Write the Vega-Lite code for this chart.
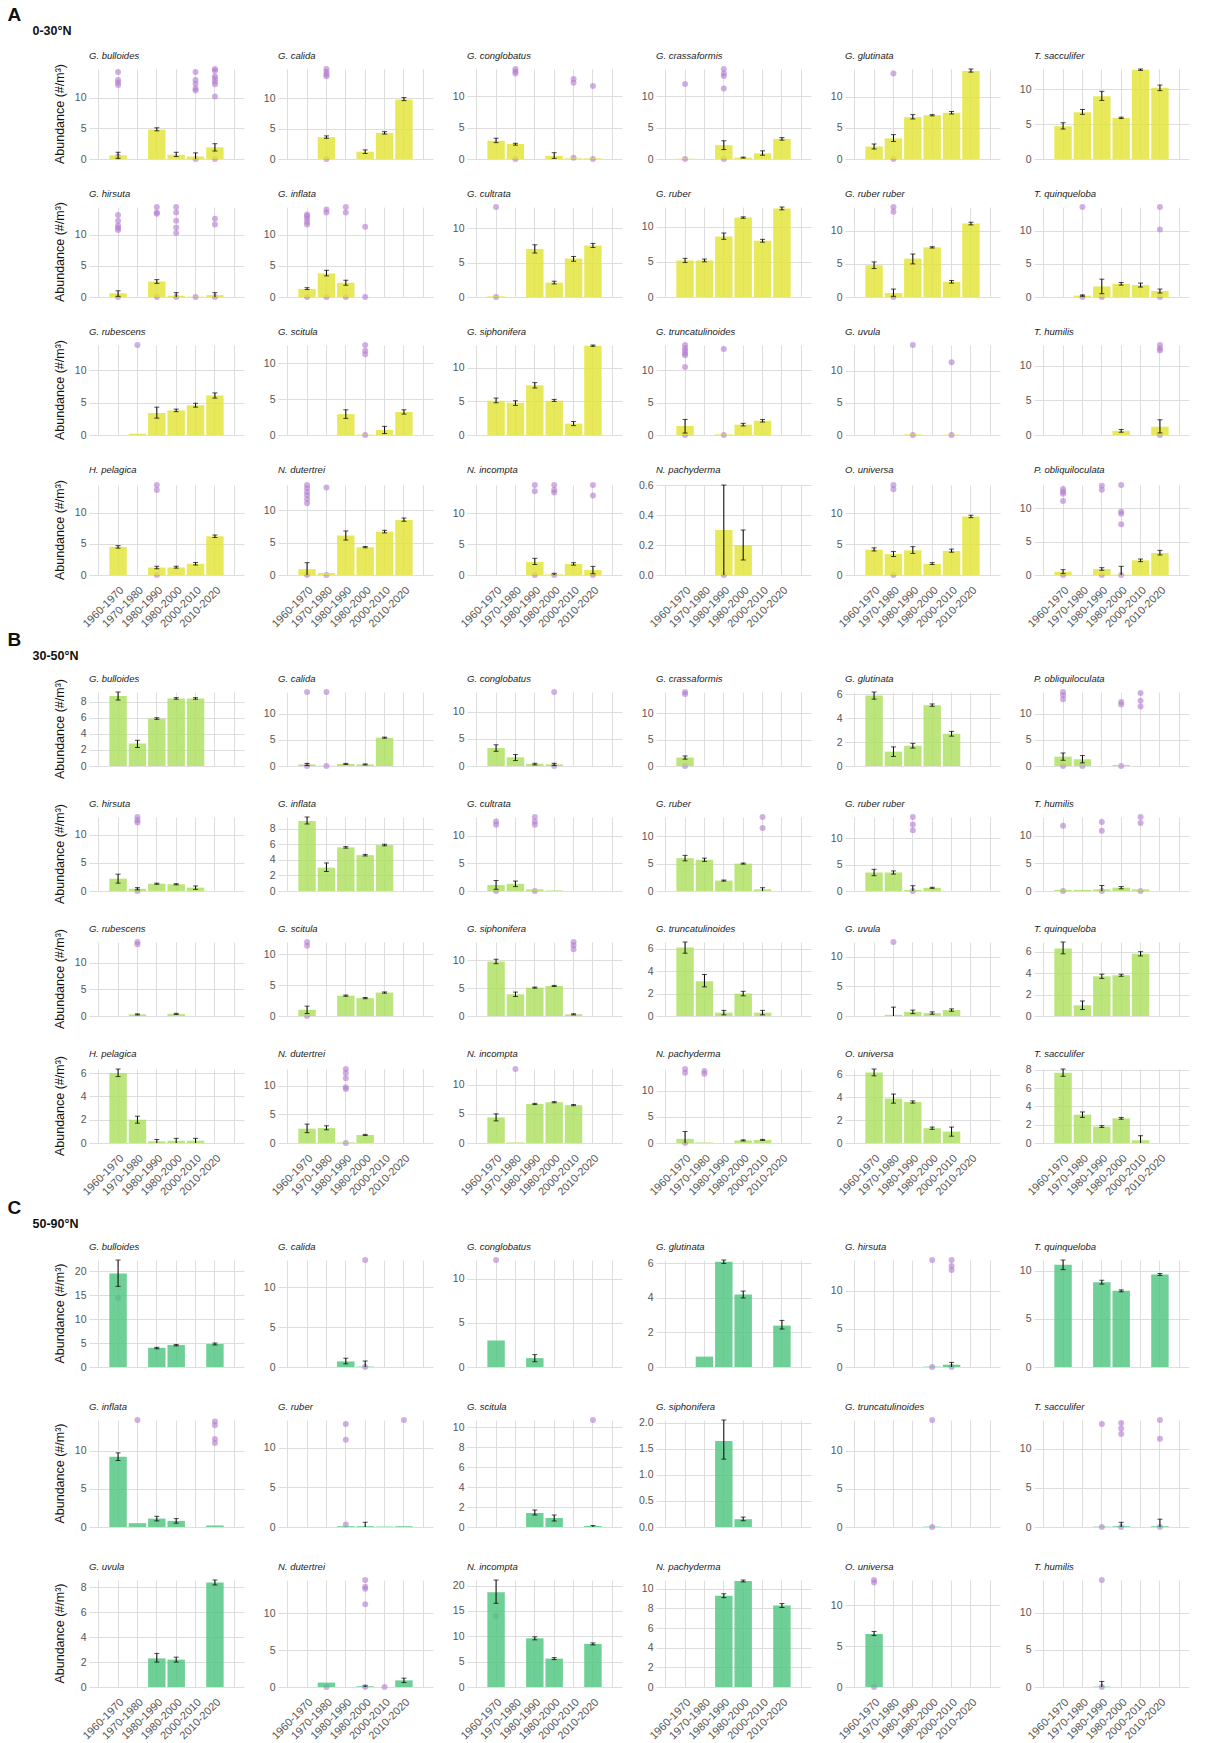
{
"$schema":"https://vega.github.io/schema/vega-lite/v6.json",
"padding":{"left":7,"top":6,"right":5,"bottom":0},
"background":"white",
"datasets":{"d":[
{"g":"A","s":"G. bulloides","d":1960,"m":0.6,"lo":0.1,"hi":1.1,"p":[14.2,12.9,12.5,12.1,0.4]},
{"g":"A","s":"G. bulloides","d":1980,"m":4.8,"lo":4.6,"hi":5.1,"p":[]},
{"g":"A","s":"G. bulloides","d":1990,"m":0.7,"lo":0.4,"hi":1.1,"p":[]},
{"g":"A","s":"G. bulloides","d":2000,"m":0.4,"lo":0,"hi":1.0,"p":[14.2,12.9,12.3,11.5,11.2,0]},
{"g":"A","s":"G. bulloides","d":2010,"m":1.9,"lo":1.3,"hi":2.5,"p":[14.7,14.4,13.5,13.1,12.6,12.2,10.2,0]},
{"g":"A","s":"G. calida","d":1970,"m":3.6,"lo":3.4,"hi":3.8,"p":[14.8,14.3,13.9,13.6,0]},
{"g":"A","s":"G. calida","d":1990,"m":1.2,"lo":0.9,"hi":1.5,"p":[]},
{"g":"A","s":"G. calida","d":2000,"m":4.3,"lo":4.1,"hi":4.5,"p":[]},
{"g":"A","s":"G. calida","d":2010,"m":9.8,"lo":9.6,"hi":10.1,"p":[]},
{"g":"A","s":"G. conglobatus","d":1960,"m":2.9,"lo":2.6,"hi":3.3,"p":[]},
{"g":"A","s":"G. conglobatus","d":1970,"m":2.4,"lo":2.2,"hi":2.5,"p":[14.3,13.9,13.6,0]},
{"g":"A","s":"G. conglobatus","d":1990,"m":0.5,"lo":0.1,"hi":1.0,"p":[]},
{"g":"A","s":"G. conglobatus","d":2000,"m":0.1,"p":[12.7,12.1,0.2]},
{"g":"A","s":"G. conglobatus","d":2010,"m":0.1,"p":[11.6,0]},
{"g":"A","s":"G. crassaformis","d":1960,"m":0.05,"p":[11.9,0]},
{"g":"A","s":"G. crassaformis","d":1980,"m":2.2,"lo":1.5,"hi":2.9,"p":[14.3,13.6,13.2,11.2,0]},
{"g":"A","s":"G. crassaformis","d":1990,"m":0.2,"lo":0.15,"hi":0.3,"p":[]},
{"g":"A","s":"G. crassaformis","d":2000,"m":0.9,"lo":0.6,"hi":1.3,"p":[]},
{"g":"A","s":"G. crassaformis","d":2010,"m":3.2,"lo":3.0,"hi":3.4,"p":[]},
{"g":"A","s":"G. glutinata","d":1960,"m":2.0,"lo":1.6,"hi":2.4,"p":[]},
{"g":"A","s":"G. glutinata","d":1970,"m":3.3,"lo":2.8,"hi":3.9,"p":[13.7,0]},
{"g":"A","s":"G. glutinata","d":1980,"m":6.7,"lo":6.4,"hi":7.1,"p":[]},
{"g":"A","s":"G. glutinata","d":1990,"m":7.0,"lo":6.9,"hi":7.1,"p":[]},
{"g":"A","s":"G. glutinata","d":2000,"m":7.4,"lo":7.2,"hi":7.6,"p":[]},
{"g":"A","s":"G. glutinata","d":2010,"m":14.1,"lo":13.9,"hi":14.4,"p":[]},
{"g":"A","s":"T. sacculifer","d":1960,"m":4.7,"lo":4.3,"hi":5.2,"p":[]},
{"g":"A","s":"T. sacculifer","d":1970,"m":6.7,"lo":6.4,"hi":7.1,"p":[]},
{"g":"A","s":"T. sacculifer","d":1980,"m":9.0,"lo":8.4,"hi":9.7,"p":[]},
{"g":"A","s":"T. sacculifer","d":1990,"m":5.9,"lo":5.8,"hi":6.0,"p":[]},
{"g":"A","s":"T. sacculifer","d":2000,"m":12.8,"lo":12.7,"hi":12.9,"p":[]},
{"g":"A","s":"T. sacculifer","d":2010,"m":10.2,"lo":9.8,"hi":10.6,"p":[]},
{"g":"A","s":"G. hirsuta","d":1960,"m":0.6,"lo":0.1,"hi":1.0,"p":[13.2,12.3,11.5,11.1,10.8,0]},
{"g":"A","s":"G. hirsuta","d":1980,"m":2.5,"lo":2.2,"hi":2.8,"p":[14.5,13.6,13.4,0]},
{"g":"A","s":"G. hirsuta","d":1990,"m":0.2,"lo":0,"hi":0.7,"p":[14.5,13.6,12.3,11.2,10.3,0]},
{"g":"A","s":"G. hirsuta","d":2000,"m":0.05,"p":[0]},
{"g":"A","s":"G. hirsuta","d":2010,"m":0.3,"lo":0,"hi":0.7,"p":[12.6,11.7,0]},
{"g":"A","s":"G. inflata","d":1960,"m":1.3,"lo":1.2,"hi":1.5,"p":[13.3,13.0,12.6,12.1,11.7,0]},
{"g":"A","s":"G. inflata","d":1970,"m":3.8,"lo":3.4,"hi":4.3,"p":[14.1,13.6,0]},
{"g":"A","s":"G. inflata","d":1980,"m":2.3,"lo":1.9,"hi":2.7,"p":[14.5,13.6,0]},
{"g":"A","s":"G. inflata","d":1990,"p":[11.3,0]},
{"g":"A","s":"G. cultrata","d":1960,"m":0.1,"p":[13.1,0]},
{"g":"A","s":"G. cultrata","d":1980,"m":7.0,"lo":6.4,"hi":7.6,"p":[]},
{"g":"A","s":"G. cultrata","d":1990,"m":2.1,"lo":1.9,"hi":2.3,"p":[]},
{"g":"A","s":"G. cultrata","d":2000,"m":5.6,"lo":5.2,"hi":5.9,"p":[]},
{"g":"A","s":"G. cultrata","d":2010,"m":7.5,"lo":7.2,"hi":7.8,"p":[]},
{"g":"A","s":"G. ruber","d":1960,"m":5.2,"lo":4.9,"hi":5.5,"p":[]},
{"g":"A","s":"G. ruber","d":1970,"m":5.2,"lo":5.0,"hi":5.4,"p":[]},
{"g":"A","s":"G. ruber","d":1980,"m":8.6,"lo":8.2,"hi":9.1,"p":[]},
{"g":"A","s":"G. ruber","d":1990,"m":11.3,"lo":11.2,"hi":11.4,"p":[]},
{"g":"A","s":"G. ruber","d":2000,"m":8.0,"lo":7.8,"hi":8.2,"p":[]},
{"g":"A","s":"G. ruber","d":2010,"m":12.6,"lo":12.4,"hi":12.8,"p":[]},
{"g":"A","s":"G. ruber ruber","d":1960,"m":4.8,"lo":4.3,"hi":5.3,"p":[]},
{"g":"A","s":"G. ruber ruber","d":1970,"m":0.6,"lo":0.1,"hi":1.2,"p":[13.6,12.9,0]},
{"g":"A","s":"G. ruber ruber","d":1980,"m":5.8,"lo":5.0,"hi":6.5,"p":[]},
{"g":"A","s":"G. ruber ruber","d":1990,"m":7.5,"lo":7.4,"hi":7.6,"p":[]},
{"g":"A","s":"G. ruber ruber","d":2000,"m":2.3,"lo":2.1,"hi":2.5,"p":[]},
{"g":"A","s":"G. ruber ruber","d":2010,"m":11.1,"lo":10.9,"hi":11.3,"p":[]},
{"g":"A","s":"T. quinqueloba","d":1970,"m":0.2,"lo":0.1,"hi":0.3,"p":[13.6,0]},
{"g":"A","s":"T. quinqueloba","d":1980,"m":1.6,"lo":0.5,"hi":2.7,"p":[0]},
{"g":"A","s":"T. quinqueloba","d":1990,"m":2.0,"lo":1.8,"hi":2.2,"p":[]},
{"g":"A","s":"T. quinqueloba","d":2000,"m":1.8,"lo":1.5,"hi":2.1,"p":[]},
{"g":"A","s":"T. quinqueloba","d":2010,"m":0.9,"lo":0.6,"hi":1.2,"p":[13.6,10.2,0]},
{"g":"A","s":"G. rubescens","d":1970,"m":0.2,"p":[13.9]},
{"g":"A","s":"G. rubescens","d":1980,"m":3.4,"lo":2.6,"hi":4.3,"p":[]},
{"g":"A","s":"G. rubescens","d":1990,"m":3.8,"lo":3.6,"hi":4.0,"p":[]},
{"g":"A","s":"G. rubescens","d":2000,"m":4.6,"lo":4.3,"hi":4.9,"p":[]},
{"g":"A","s":"G. rubescens","d":2010,"m":6.1,"lo":5.7,"hi":6.5,"p":[]},
{"g":"A","s":"G. scitula","d":1980,"m":2.9,"lo":2.3,"hi":3.5,"p":[]},
{"g":"A","s":"G. scitula","d":1990,"m":0.05,"p":[12.5,11.7,11.2,0]},
{"g":"A","s":"G. scitula","d":2000,"m":0.7,"lo":0.2,"hi":1.2,"p":[]},
{"g":"A","s":"G. scitula","d":2010,"m":3.2,"lo":2.9,"hi":3.5,"p":[]},
{"g":"A","s":"G. siphonifera","d":1960,"m":5.1,"lo":4.8,"hi":5.5,"p":[]},
{"g":"A","s":"G. siphonifera","d":1970,"m":4.8,"lo":4.4,"hi":5.1,"p":[]},
{"g":"A","s":"G. siphonifera","d":1980,"m":7.4,"lo":7.0,"hi":7.8,"p":[]},
{"g":"A","s":"G. siphonifera","d":1990,"m":5.1,"lo":5.0,"hi":5.3,"p":[]},
{"g":"A","s":"G. siphonifera","d":2000,"m":1.7,"lo":1.4,"hi":2.0,"p":[]},
{"g":"A","s":"G. siphonifera","d":2010,"m":13.3,"lo":13.2,"hi":13.4,"p":[]},
{"g":"A","s":"G. truncatulinoides","d":1960,"m":1.4,"lo":0.3,"hi":2.4,"p":[13.9,13.4,13.0,12.6,12.3,10.5,0]},
{"g":"A","s":"G. truncatulinoides","d":1980,"m":0.1,"p":[13.3,0]},
{"g":"A","s":"G. truncatulinoides","d":1990,"m":1.6,"lo":1.4,"hi":1.8,"p":[]},
{"g":"A","s":"G. truncatulinoides","d":2000,"m":2.2,"lo":2.0,"hi":2.4,"p":[]},
{"g":"A","s":"G. uvula","d":1980,"m":0.1,"p":[14.0,0]},
{"g":"A","s":"G. uvula","d":2000,"m":0.05,"p":[11.3,0]},
{"g":"A","s":"T. humilis","d":1990,"m":0.6,"lo":0.4,"hi":0.8,"p":[]},
{"g":"A","s":"T. humilis","d":2010,"m":1.2,"lo":0.3,"hi":2.2,"p":[13.0,12.5,12.2,0]},
{"g":"A","s":"H. pelagica","d":1960,"m":4.5,"lo":4.3,"hi":4.7,"p":[]},
{"g":"A","s":"H. pelagica","d":1980,"m":1.2,"lo":1.0,"hi":1.4,"p":[14.4,13.6,0]},
{"g":"A","s":"H. pelagica","d":1990,"m":1.2,"lo":1.1,"hi":1.4,"p":[]},
{"g":"A","s":"H. pelagica","d":2000,"m":1.8,"lo":1.6,"hi":2.0,"p":[]},
{"g":"A","s":"H. pelagica","d":2010,"m":6.2,"lo":6.0,"hi":6.4,"p":[]},
{"g":"A","s":"N. dutertrei","d":1960,"m":0.9,"lo":0,"hi":1.9,"p":[13.9,13.4,12.8,12.3,11.7,11.1,0]},
{"g":"A","s":"N. dutertrei","d":1970,"m":0.3,"p":[13.5,0]},
{"g":"A","s":"N. dutertrei","d":1980,"m":6.1,"lo":5.4,"hi":6.8,"p":[]},
{"g":"A","s":"N. dutertrei","d":1990,"m":4.3,"lo":4.2,"hi":4.4,"p":[]},
{"g":"A","s":"N. dutertrei","d":2000,"m":6.7,"lo":6.5,"hi":6.9,"p":[]},
{"g":"A","s":"N. dutertrei","d":2010,"m":8.5,"lo":8.3,"hi":8.8,"p":[]},
{"g":"A","s":"N. incompta","d":1980,"m":2.1,"lo":1.7,"hi":2.7,"p":[14.6,13.6,0]},
{"g":"A","s":"N. incompta","d":1990,"m":0.1,"lo":0,"hi":0.2,"p":[14.6,13.8,13.4,0]},
{"g":"A","s":"N. incompta","d":2000,"m":1.8,"lo":1.6,"hi":2.0,"p":[]},
{"g":"A","s":"N. incompta","d":2010,"m":0.8,"lo":0.2,"hi":1.4,"p":[14.6,12.9,0]},
{"g":"A","s":"N. pachyderma","d":1980,"m":0.3,"lo":0,"hi":0.6,"p":[0]},
{"g":"A","s":"N. pachyderma","d":1990,"m":0.2,"lo":0.1,"hi":0.3,"p":[]},
{"g":"A","s":"O. universa","d":1960,"m":4.1,"lo":3.9,"hi":4.4,"p":[]},
{"g":"A","s":"O. universa","d":1970,"m":3.4,"lo":3.0,"hi":3.8,"p":[14.6,13.9,0]},
{"g":"A","s":"O. universa","d":1980,"m":4.0,"lo":3.5,"hi":4.6,"p":[]},
{"g":"A","s":"O. universa","d":1990,"m":1.8,"lo":1.7,"hi":2.0,"p":[]},
{"g":"A","s":"O. universa","d":2000,"m":3.9,"lo":3.7,"hi":4.2,"p":[]},
{"g":"A","s":"O. universa","d":2010,"m":9.5,"lo":9.3,"hi":9.7,"p":[]},
{"g":"A","s":"P. obliquiloculata","d":1960,"m":0.5,"lo":0.2,"hi":0.8,"p":[12.9,12.5,12.2,11.1,0]},
{"g":"A","s":"P. obliquiloculata","d":1980,"m":0.9,"lo":0.7,"hi":1.1,"p":[13.4,12.8,0]},
{"g":"A","s":"P. obliquiloculata","d":1990,"m":0.05,"lo":0,"hi":1.3,"p":[13.5,9.5,9.2,7.6,0]},
{"g":"A","s":"P. obliquiloculata","d":2000,"m":2.2,"lo":2.0,"hi":2.4,"p":[]},
{"g":"A","s":"P. obliquiloculata","d":2010,"m":3.3,"lo":3.0,"hi":3.7,"p":[]},
{"g":"B","s":"G. bulloides","d":1960,"m":8.7,"lo":8.2,"hi":9.2,"p":[]},
{"g":"B","s":"G. bulloides","d":1970,"m":2.8,"lo":2.3,"hi":3.2,"p":[]},
{"g":"B","s":"G. bulloides","d":1980,"m":5.9,"lo":5.8,"hi":6.0,"p":[]},
{"g":"B","s":"G. bulloides","d":1990,"m":8.4,"lo":8.3,"hi":8.5,"p":[]},
{"g":"B","s":"G. bulloides","d":2000,"m":8.4,"lo":8.3,"hi":8.5,"p":[]},
{"g":"B","s":"G. calida","d":1960,"m":0.3,"lo":0.1,"hi":0.5,"p":[14.1,0]},
{"g":"B","s":"G. calida","d":1970,"m":0.05,"p":[14.1,0]},
{"g":"B","s":"G. calida","d":1980,"m":0.4,"lo":0.3,"hi":0.5,"p":[]},
{"g":"B","s":"G. calida","d":1990,"m":0.3,"lo":0.2,"hi":0.4,"p":[]},
{"g":"B","s":"G. calida","d":2000,"m":5.4,"lo":5.3,"hi":5.5,"p":[]},
{"g":"B","s":"G. conglobatus","d":1960,"m":3.3,"lo":2.7,"hi":3.9,"p":[]},
{"g":"B","s":"G. conglobatus","d":1970,"m":1.6,"lo":1.0,"hi":2.1,"p":[]},
{"g":"B","s":"G. conglobatus","d":1980,"m":0.4,"lo":0.2,"hi":0.5,"p":[]},
{"g":"B","s":"G. conglobatus","d":1990,"m":0.3,"lo":0.1,"hi":0.5,"p":[13.6,0]},
{"g":"B","s":"G. crassaformis","d":1960,"m":1.6,"lo":1.3,"hi":1.9,"p":[14.0,13.6,0]},
{"g":"B","s":"G. glutinata","d":1960,"m":5.9,"lo":5.6,"hi":6.2,"p":[]},
{"g":"B","s":"G. glutinata","d":1970,"m":1.2,"lo":0.8,"hi":1.6,"p":[]},
{"g":"B","s":"G. glutinata","d":1980,"m":1.7,"lo":1.5,"hi":1.9,"p":[]},
{"g":"B","s":"G. glutinata","d":1990,"m":5.1,"lo":5.0,"hi":5.2,"p":[]},
{"g":"B","s":"G. glutinata","d":2000,"m":2.7,"lo":2.5,"hi":2.9,"p":[]},
{"g":"B","s":"P. obliquiloculata","d":1960,"m":1.8,"lo":1.1,"hi":2.5,"p":[14.2,13.6,12.8,0]},
{"g":"B","s":"P. obliquiloculata","d":1970,"m":1.3,"lo":0.6,"hi":2.0,"p":[0]},
{"g":"B","s":"P. obliquiloculata","d":1990,"m":0.2,"p":[12.3,11.8,0]},
{"g":"B","s":"P. obliquiloculata","d":2000,"p":[14.0,12.5,11.4]},
{"g":"B","s":"G. hirsuta","d":1960,"m":2.2,"lo":1.4,"hi":3.0,"p":[]},
{"g":"B","s":"G. hirsuta","d":1970,"m":0.4,"lo":0.2,"hi":0.6,"p":[13.2,12.6,12.2,0]},
{"g":"B","s":"G. hirsuta","d":1980,"m":1.3,"lo":1.2,"hi":1.4,"p":[]},
{"g":"B","s":"G. hirsuta","d":1990,"m":1.2,"lo":1.1,"hi":1.3,"p":[]},
{"g":"B","s":"G. hirsuta","d":2000,"m":0.6,"lo":0.3,"hi":0.9,"p":[]},
{"g":"B","s":"G. inflata","d":1960,"m":9.0,"lo":8.6,"hi":9.5,"p":[]},
{"g":"B","s":"G. inflata","d":1970,"m":3.0,"lo":2.5,"hi":3.6,"p":[]},
{"g":"B","s":"G. inflata","d":1980,"m":5.6,"lo":5.5,"hi":5.7,"p":[]},
{"g":"B","s":"G. inflata","d":1990,"m":4.6,"lo":4.5,"hi":4.7,"p":[]},
{"g":"B","s":"G. inflata","d":2000,"m":5.9,"lo":5.8,"hi":6.0,"p":[]},
{"g":"B","s":"G. cultrata","d":1960,"m":1.1,"lo":0.3,"hi":1.9,"p":[12.6,12.0,0]},
{"g":"B","s":"G. cultrata","d":1970,"m":1.3,"lo":0.8,"hi":1.8,"p":[]},
{"g":"B","s":"G. cultrata","d":1980,"m":0.3,"p":[13.4,12.6,12.0,0]},
{"g":"B","s":"G. cultrata","d":1990,"m":0.1,"p":[]},
{"g":"B","s":"G. ruber","d":1960,"m":6.0,"lo":5.5,"hi":6.5,"p":[]},
{"g":"B","s":"G. ruber","d":1970,"m":5.7,"lo":5.4,"hi":6.0,"p":[]},
{"g":"B","s":"G. ruber","d":1980,"m":1.9,"lo":1.8,"hi":2.0,"p":[]},
{"g":"B","s":"G. ruber","d":1990,"m":5.0,"lo":4.9,"hi":5.1,"p":[]},
{"g":"B","s":"G. ruber","d":2000,"m":0.3,"lo":0,"hi":0.6,"p":[13.5,11.5]},
{"g":"B","s":"G. ruber ruber","d":1960,"m":3.5,"lo":2.9,"hi":4.1,"p":[]},
{"g":"B","s":"G. ruber ruber","d":1970,"m":3.5,"lo":3.2,"hi":3.8,"p":[]},
{"g":"B","s":"G. ruber ruber","d":1980,"m":0.2,"lo":0,"hi":1.0,"p":[14.0,12.6,11.5,0]},
{"g":"B","s":"G. ruber ruber","d":1990,"m":0.6,"lo":0.5,"hi":0.7,"p":[]},
{"g":"B","s":"T. humilis","d":1960,"m":0.2,"p":[11.8,0]},
{"g":"B","s":"T. humilis","d":1970,"m":0.2,"p":[]},
{"g":"B","s":"T. humilis","d":1980,"m":0.3,"lo":0,"hi":1.0,"p":[12.5,10.9,0]},
{"g":"B","s":"T. humilis","d":1990,"m":0.6,"lo":0.4,"hi":0.8,"p":[]},
{"g":"B","s":"T. humilis","d":2000,"m":0.3,"p":[13.4,12.3,0]},
{"g":"B","s":"G. rubescens","d":1970,"m":0.3,"lo":0.2,"hi":0.4,"p":[13.9,13.5]},
{"g":"B","s":"G. rubescens","d":1990,"m":0.4,"lo":0.3,"hi":0.5,"p":[]},
{"g":"B","s":"G. scitula","d":1960,"m":1.0,"lo":0.4,"hi":1.6,"p":[12.0,11.4,0]},
{"g":"B","s":"G. scitula","d":1980,"m":3.3,"lo":3.2,"hi":3.4,"p":[]},
{"g":"B","s":"G. scitula","d":1990,"m":2.9,"lo":2.8,"hi":3.0,"p":[]},
{"g":"B","s":"G. scitula","d":2000,"m":3.8,"lo":3.7,"hi":3.9,"p":[]},
{"g":"B","s":"G. siphonifera","d":1960,"m":9.8,"lo":9.4,"hi":10.2,"p":[]},
{"g":"B","s":"G. siphonifera","d":1970,"m":3.9,"lo":3.5,"hi":4.3,"p":[]},
{"g":"B","s":"G. siphonifera","d":1980,"m":5.1,"lo":5.0,"hi":5.2,"p":[]},
{"g":"B","s":"G. siphonifera","d":1990,"m":5.4,"lo":5.3,"hi":5.5,"p":[]},
{"g":"B","s":"G. siphonifera","d":2000,"m":0.3,"lo":0.2,"hi":0.4,"p":[13.3,12.7,12.0]},
{"g":"B","s":"G. truncatulinoides","d":1960,"m":6.1,"lo":5.6,"hi":6.6,"p":[]},
{"g":"B","s":"G. truncatulinoides","d":1970,"m":3.1,"lo":2.6,"hi":3.7,"p":[]},
{"g":"B","s":"G. truncatulinoides","d":1980,"m":0.3,"lo":0.1,"hi":0.5,"p":[]},
{"g":"B","s":"G. truncatulinoides","d":1990,"m":2.0,"lo":1.8,"hi":2.2,"p":[]},
{"g":"B","s":"G. truncatulinoides","d":2000,"m":0.3,"lo":0.1,"hi":0.5,"p":[]},
{"g":"B","s":"G. uvula","d":1970,"m":0.2,"lo":0,"hi":1.5,"p":[12.5]},
{"g":"B","s":"G. uvula","d":1980,"m":0.7,"lo":0.4,"hi":1.0,"p":[]},
{"g":"B","s":"G. uvula","d":1990,"m":0.5,"lo":0.3,"hi":0.7,"p":[]},
{"g":"B","s":"G. uvula","d":2000,"m":1.0,"lo":0.8,"hi":1.2,"p":[]},
{"g":"B","s":"T. quinqueloba","d":1960,"m":6.3,"lo":5.8,"hi":6.9,"p":[]},
{"g":"B","s":"T. quinqueloba","d":1970,"m":1.0,"lo":0.6,"hi":1.4,"p":[]},
{"g":"B","s":"T. quinqueloba","d":1980,"m":3.7,"lo":3.5,"hi":3.9,"p":[]},
{"g":"B","s":"T. quinqueloba","d":1990,"m":3.8,"lo":3.7,"hi":3.9,"p":[]},
{"g":"B","s":"T. quinqueloba","d":2000,"m":5.8,"lo":5.6,"hi":6.0,"p":[]},
{"g":"B","s":"H. pelagica","d":1960,"m":6.0,"lo":5.7,"hi":6.35,"p":[]},
{"g":"B","s":"H. pelagica","d":1970,"m":2.0,"lo":1.7,"hi":2.3,"p":[]},
{"g":"B","s":"H. pelagica","d":1980,"m":0.15,"lo":0,"hi":0.3,"p":[]},
{"g":"B","s":"H. pelagica","d":1990,"m":0.2,"lo":0,"hi":0.4,"p":[]},
{"g":"B","s":"H. pelagica","d":2000,"m":0.2,"lo":0,"hi":0.4,"p":[]},
{"g":"B","s":"N. dutertrei","d":1960,"m":2.5,"lo":1.8,"hi":3.3,"p":[]},
{"g":"B","s":"N. dutertrei","d":1970,"m":2.6,"lo":2.3,"hi":3.0,"p":[]},
{"g":"B","s":"N. dutertrei","d":1980,"m":0.1,"p":[12.9,12.2,11.3,9.7,9.4,0]},
{"g":"B","s":"N. dutertrei","d":1990,"m":1.4,"lo":1.3,"hi":1.5,"p":[]},
{"g":"B","s":"N. incompta","d":1960,"m":4.4,"lo":3.8,"hi":5.0,"p":[]},
{"g":"B","s":"N. incompta","d":1970,"m":0.1,"p":[12.7]},
{"g":"B","s":"N. incompta","d":1980,"m":6.7,"lo":6.6,"hi":6.8,"p":[]},
{"g":"B","s":"N. incompta","d":1990,"m":7.0,"lo":6.9,"hi":7.1,"p":[]},
{"g":"B","s":"N. incompta","d":2000,"m":6.5,"lo":6.4,"hi":6.6,"p":[]},
{"g":"B","s":"N. pachyderma","d":1960,"m":0.8,"lo":0,"hi":2.2,"p":[14.2,13.5,0]},
{"g":"B","s":"N. pachyderma","d":1970,"m":0.1,"p":[13.8,13.3]},
{"g":"B","s":"N. pachyderma","d":1990,"m":0.5,"lo":0.4,"hi":0.6,"p":[]},
{"g":"B","s":"N. pachyderma","d":2000,"m":0.6,"lo":0.5,"hi":0.7,"p":[]},
{"g":"B","s":"O. universa","d":1960,"m":6.2,"lo":5.9,"hi":6.5,"p":[]},
{"g":"B","s":"O. universa","d":1970,"m":3.9,"lo":3.5,"hi":4.3,"p":[]},
{"g":"B","s":"O. universa","d":1980,"m":3.6,"lo":3.5,"hi":3.7,"p":[]},
{"g":"B","s":"O. universa","d":1990,"m":1.3,"lo":1.2,"hi":1.4,"p":[]},
{"g":"B","s":"O. universa","d":2000,"m":1.0,"lo":0.6,"hi":1.4,"p":[]},
{"g":"B","s":"T. sacculifer","d":1960,"m":7.7,"lo":7.3,"hi":8.1,"p":[]},
{"g":"B","s":"T. sacculifer","d":1970,"m":3.1,"lo":2.8,"hi":3.4,"p":[]},
{"g":"B","s":"T. sacculifer","d":1980,"m":1.8,"lo":1.7,"hi":1.9,"p":[]},
{"g":"B","s":"T. sacculifer","d":1990,"m":2.7,"lo":2.6,"hi":2.8,"p":[]},
{"g":"B","s":"T. sacculifer","d":2000,"m":0.3,"lo":0,"hi":0.8,"p":[]},
{"g":"C","s":"G. bulloides","d":1960,"m":19.5,"lo":16.8,"hi":22.3,"p":[14.4]},
{"g":"C","s":"G. bulloides","d":1980,"m":4.0,"lo":3.8,"hi":4.1,"p":[]},
{"g":"C","s":"G. bulloides","d":1990,"m":4.6,"lo":4.4,"hi":4.7,"p":[]},
{"g":"C","s":"G. bulloides","d":2010,"m":4.8,"lo":4.6,"hi":5.0,"p":[]},
{"g":"C","s":"G. calida","d":1980,"m":0.7,"lo":0.4,"hi":1.1,"p":[]},
{"g":"C","s":"G. calida","d":1990,"m":0.05,"lo":0,"hi":0.75,"p":[13.4,0]},
{"g":"C","s":"G. conglobatus","d":1960,"m":3.0,"p":[12.1]},
{"g":"C","s":"G. conglobatus","d":1980,"m":1.0,"lo":0.6,"hi":1.4,"p":[]},
{"g":"C","s":"G. glutinata","d":1970,"m":0.6,"p":[]},
{"g":"C","s":"G. glutinata","d":1980,"m":6.1,"lo":6.0,"hi":6.2,"p":[]},
{"g":"C","s":"G. glutinata","d":1990,"m":4.2,"lo":4.0,"hi":4.4,"p":[]},
{"g":"C","s":"G. glutinata","d":2010,"m":2.4,"lo":2.2,"hi":2.7,"p":[]},
{"g":"C","s":"G. hirsuta","d":1990,"m":0.05,"p":[14.0,0]},
{"g":"C","s":"G. hirsuta","d":2000,"m":0.3,"lo":0,"hi":0.6,"p":[14.0,13.2,12.7,0]},
{"g":"C","s":"T. quinqueloba","d":1960,"m":10.6,"lo":10.1,"hi":11.1,"p":[]},
{"g":"C","s":"T. quinqueloba","d":1980,"m":8.8,"lo":8.6,"hi":9.0,"p":[]},
{"g":"C","s":"T. quinqueloba","d":1990,"m":7.9,"lo":7.8,"hi":8.0,"p":[]},
{"g":"C","s":"T. quinqueloba","d":2010,"m":9.6,"lo":9.5,"hi":9.7,"p":[]},
{"g":"C","s":"G. inflata","d":1960,"m":9.2,"lo":8.7,"hi":9.7,"p":[]},
{"g":"C","s":"G. inflata","d":1970,"m":0.5,"p":[14.0]},
{"g":"C","s":"G. inflata","d":1980,"m":1.1,"lo":0.8,"hi":1.4,"p":[]},
{"g":"C","s":"G. inflata","d":1990,"m":0.8,"lo":0.5,"hi":1.1,"p":[]},
{"g":"C","s":"G. inflata","d":2010,"m":0.2,"p":[13.8,13.3,11.5,11.0]},
{"g":"C","s":"G. ruber","d":1980,"m":0.1,"p":[13.0,11.0,0.3]},
{"g":"C","s":"G. ruber","d":1990,"m":0.1,"lo":0,"hi":0.6,"p":[]},
{"g":"C","s":"G. ruber","d":2000,"m":0.05,"p":[]},
{"g":"C","s":"G. ruber","d":2010,"m":0.1,"p":[13.5]},
{"g":"C","s":"G. scitula","d":1980,"m":1.4,"lo":1.2,"hi":1.7,"p":[]},
{"g":"C","s":"G. scitula","d":1990,"m":0.9,"lo":0.6,"hi":1.2,"p":[]},
{"g":"C","s":"G. scitula","d":2010,"m":0.1,"lo":0,"hi":0.15,"p":[10.7]},
{"g":"C","s":"G. siphonifera","d":1980,"m":1.65,"lo":1.3,"hi":2.05,"p":[]},
{"g":"C","s":"G. siphonifera","d":1990,"m":0.15,"lo":0.12,"hi":0.19,"p":[]},
{"g":"C","s":"G. truncatulinoides","d":1990,"m":0.05,"p":[14.0,0]},
{"g":"C","s":"T. sacculifer","d":1980,"m":0.05,"p":[13.2,0]},
{"g":"C","s":"T. sacculifer","d":1990,"m":0.1,"lo":0,"hi":0.6,"p":[13.3,12.6,11.9,0]},
{"g":"C","s":"T. sacculifer","d":2010,"m":0.1,"lo":0,"hi":1.0,"p":[13.7,11.3,0]},
{"g":"C","s":"G. uvula","d":1980,"m":2.3,"lo":2.0,"hi":2.7,"p":[]},
{"g":"C","s":"G. uvula","d":1990,"m":2.2,"lo":2.0,"hi":2.4,"p":[]},
{"g":"C","s":"G. uvula","d":2010,"m":8.4,"lo":8.2,"hi":8.6,"p":[]},
{"g":"C","s":"N. dutertrei","d":1970,"m":0.6,"p":[0]},
{"g":"C","s":"N. dutertrei","d":1990,"m":0.1,"lo":0,"hi":0.15,"p":[14.5,13.6,13.3,11.2,0]},
{"g":"C","s":"N. dutertrei","d":2000,"p":[0]},
{"g":"C","s":"N. dutertrei","d":2010,"m":0.9,"lo":0.6,"hi":1.2,"p":[]},
{"g":"C","s":"N. incompta","d":1960,"m":18.7,"lo":16.5,"hi":21.1,"p":[14.0]},
{"g":"C","s":"N. incompta","d":1980,"m":9.6,"lo":9.3,"hi":9.9,"p":[]},
{"g":"C","s":"N. incompta","d":1990,"m":5.6,"lo":5.4,"hi":5.8,"p":[]},
{"g":"C","s":"N. incompta","d":2010,"m":8.5,"lo":8.3,"hi":8.7,"p":[]},
{"g":"C","s":"N. pachyderma","d":1980,"m":9.3,"lo":9.1,"hi":9.5,"p":[]},
{"g":"C","s":"N. pachyderma","d":1990,"m":10.8,"lo":10.7,"hi":10.9,"p":[]},
{"g":"C","s":"N. pachyderma","d":2010,"m":8.3,"lo":8.1,"hi":8.5,"p":[]},
{"g":"C","s":"O. universa","d":1960,"m":6.5,"lo":6.3,"hi":6.8,"p":[13.1,12.8,0]},
{"g":"C","s":"T. humilis","d":1980,"m":0.05,"lo":0,"hi":0.75,"p":[14.4,0]}
]},
"data":{"name":"d"},
"spacing":2,
"vconcat":[
{"title":{"text":"A","fontSize":19,"dx":-25,"offset":0},"vconcat":[{"title":{"text":"0-30°N","fontSize":12.5,"dx":-21,"offset":13},"spacing":23,"vconcat":[
{"transform":[{"filter":{"field":"g","equal":"A"}},{"filter":{"field":"s","oneOf":["G. bulloides","G. calida","G. conglobatus","G. crassaformis","G. glutinata","T. sacculifer"]}}],
"facet":{"row":{"field":"g","title":null},"column":{"field":"s","title":null,"sort":["G. bulloides","G. calida","G. conglobatus","G. crassaformis","G. glutinata","T. sacculifer"]}},
"spacing":{"column":13,"row":0},"resolve":{"scale":{"y":"independent"}},
"spec":{"width":155,"height":90,"encoding":{"x":{"field":"d","type":"ordinal","title":null,"scale":{"domain":[1950,1960,1970,1980,1990,2000,2010,2020],"paddingInner":0.1,"paddingOuter":0.05},"axis":{"labels":false}}},
"layer":[
{"transform":[{"flatten":["p"]}],"mark":{"type":"circle","color":"#b47ad0","opacity":0.6,"size":36},"encoding":{"y":{"field":"p","type":"quantitative","title":null}}},
{"mark":{"type":"bar","color":"#e2e331","opacity":0.8},"encoding":{"y":{"field":"m","type":"quantitative","title":null,"scale":{"domainMin":0,"nice":false}}}},
{"mark":{"type":"rule","color":"black"},"encoding":{"y":{"field":"lo","type":"quantitative","title":null},"y2":{"field":"hi"}}},
{"mark":{"type":"tick","color":"black","size":5,"thickness":1},"encoding":{"y":{"field":"hi","type":"quantitative","title":null}}},
{"transform":[{"filter":"datum.lo>0"}],"mark":{"type":"tick","color":"black","size":5,"thickness":1},"encoding":{"y":{"field":"lo","type":"quantitative","title":null}}}]}},
{"transform":[{"filter":{"field":"g","equal":"A"}},{"filter":{"field":"s","oneOf":["G. hirsuta","G. inflata","G. cultrata","G. ruber","G. ruber ruber","T. quinqueloba"]}}],
"facet":{"row":{"field":"g","title":null},"column":{"field":"s","title":null,"sort":["G. hirsuta","G. inflata","G. cultrata","G. ruber","G. ruber ruber","T. quinqueloba"]}},
"spacing":{"column":13,"row":0},"resolve":{"scale":{"y":"independent"}},
"spec":{"width":155,"height":90,"encoding":{"x":{"field":"d","type":"ordinal","title":null,"scale":{"domain":[1950,1960,1970,1980,1990,2000,2010,2020],"paddingInner":0.1,"paddingOuter":0.05},"axis":{"labels":false}}},
"layer":[
{"transform":[{"flatten":["p"]}],"mark":{"type":"circle","color":"#b47ad0","opacity":0.6,"size":36},"encoding":{"y":{"field":"p","type":"quantitative","title":null}}},
{"mark":{"type":"bar","color":"#e2e331","opacity":0.8},"encoding":{"y":{"field":"m","type":"quantitative","title":null,"scale":{"domainMin":0,"nice":false}}}},
{"mark":{"type":"rule","color":"black"},"encoding":{"y":{"field":"lo","type":"quantitative","title":null},"y2":{"field":"hi"}}},
{"mark":{"type":"tick","color":"black","size":5,"thickness":1},"encoding":{"y":{"field":"hi","type":"quantitative","title":null}}},
{"transform":[{"filter":"datum.lo>0"}],"mark":{"type":"tick","color":"black","size":5,"thickness":1},"encoding":{"y":{"field":"lo","type":"quantitative","title":null}}}]}},
{"transform":[{"filter":{"field":"g","equal":"A"}},{"filter":{"field":"s","oneOf":["G. rubescens","G. scitula","G. siphonifera","G. truncatulinoides","G. uvula","T. humilis"]}}],
"facet":{"row":{"field":"g","title":null},"column":{"field":"s","title":null,"sort":["G. rubescens","G. scitula","G. siphonifera","G. truncatulinoides","G. uvula","T. humilis"]}},
"spacing":{"column":13,"row":0},"resolve":{"scale":{"y":"independent"}},
"spec":{"width":155,"height":90,"encoding":{"x":{"field":"d","type":"ordinal","title":null,"scale":{"domain":[1950,1960,1970,1980,1990,2000,2010,2020],"paddingInner":0.1,"paddingOuter":0.05},"axis":{"labels":false}}},
"layer":[
{"transform":[{"flatten":["p"]}],"mark":{"type":"circle","color":"#b47ad0","opacity":0.6,"size":36},"encoding":{"y":{"field":"p","type":"quantitative","title":null}}},
{"mark":{"type":"bar","color":"#e2e331","opacity":0.8},"encoding":{"y":{"field":"m","type":"quantitative","title":null,"scale":{"domainMin":0,"nice":false}}}},
{"mark":{"type":"rule","color":"black"},"encoding":{"y":{"field":"lo","type":"quantitative","title":null},"y2":{"field":"hi"}}},
{"mark":{"type":"tick","color":"black","size":5,"thickness":1},"encoding":{"y":{"field":"hi","type":"quantitative","title":null}}},
{"transform":[{"filter":"datum.lo>0"}],"mark":{"type":"tick","color":"black","size":5,"thickness":1},"encoding":{"y":{"field":"lo","type":"quantitative","title":null}}}]}},
{"transform":[{"filter":{"field":"g","equal":"A"}},{"filter":{"field":"s","oneOf":["H. pelagica","N. dutertrei","N. incompta","N. pachyderma","O. universa","P. obliquiloculata"]}}],
"facet":{"row":{"field":"g","title":null},"column":{"field":"s","title":null,"sort":["H. pelagica","N. dutertrei","N. incompta","N. pachyderma","O. universa","P. obliquiloculata"]}},
"spacing":{"column":13,"row":0},"resolve":{"scale":{"y":"independent"}},
"spec":{"width":155,"height":90,"encoding":{"x":{"field":"d","type":"ordinal","title":null,"scale":{"domain":[1950,1960,1970,1980,1990,2000,2010,2020],"paddingInner":0.1,"paddingOuter":0.05},"axis":{"labelAngle":-45,"labelExpr":"datum.value<1960||datum.value>2010?'':datum.value==1990?'1980-2000':datum.value+'-'+(datum.value+10)"}}},
"layer":[
{"transform":[{"flatten":["p"]}],"mark":{"type":"circle","color":"#b47ad0","opacity":0.6,"size":36},"encoding":{"y":{"field":"p","type":"quantitative","title":null}}},
{"mark":{"type":"bar","color":"#e2e331","opacity":0.8},"encoding":{"y":{"field":"m","type":"quantitative","title":null,"scale":{"domainMin":0,"nice":false}}}},
{"mark":{"type":"rule","color":"black"},"encoding":{"y":{"field":"lo","type":"quantitative","title":null},"y2":{"field":"hi"}}},
{"mark":{"type":"tick","color":"black","size":5,"thickness":1},"encoding":{"y":{"field":"hi","type":"quantitative","title":null}}},
{"transform":[{"filter":"datum.lo>0"}],"mark":{"type":"tick","color":"black","size":5,"thickness":1},"encoding":{"y":{"field":"lo","type":"quantitative","title":null}}}]}}
]}]},
{"title":{"text":"B","fontSize":19,"dx":-25,"offset":0},"vconcat":[{"title":{"text":"30-50°N","fontSize":12.5,"dx":-21,"offset":11},"spacing":18,"vconcat":[
{"transform":[{"filter":{"field":"g","equal":"B"}},{"filter":{"field":"s","oneOf":["G. bulloides","G. calida","G. conglobatus","G. crassaformis","G. glutinata","P. obliquiloculata"]}}],
"facet":{"row":{"field":"g","title":null},"column":{"field":"s","title":null,"sort":["G. bulloides","G. calida","G. conglobatus","G. crassaformis","G. glutinata","P. obliquiloculata"]}},
"spacing":{"column":13,"row":0},"resolve":{"scale":{"y":"independent"}},
"spec":{"width":155,"height":74,"encoding":{"x":{"field":"d","type":"ordinal","title":null,"scale":{"domain":[1950,1960,1970,1980,1990,2000,2010,2020],"paddingInner":0.1,"paddingOuter":0.05},"axis":{"labels":false}}},
"layer":[
{"transform":[{"flatten":["p"]}],"mark":{"type":"circle","color":"#b47ad0","opacity":0.6,"size":36},"encoding":{"y":{"field":"p","type":"quantitative","title":null}}},
{"mark":{"type":"bar","color":"#abde5b","opacity":0.8},"encoding":{"y":{"field":"m","type":"quantitative","title":null,"scale":{"domainMin":0,"nice":false}}}},
{"mark":{"type":"rule","color":"black"},"encoding":{"y":{"field":"lo","type":"quantitative","title":null},"y2":{"field":"hi"}}},
{"mark":{"type":"tick","color":"black","size":5,"thickness":1},"encoding":{"y":{"field":"hi","type":"quantitative","title":null}}},
{"transform":[{"filter":"datum.lo>0"}],"mark":{"type":"tick","color":"black","size":5,"thickness":1},"encoding":{"y":{"field":"lo","type":"quantitative","title":null}}}]}},
{"transform":[{"filter":{"field":"g","equal":"B"}},{"filter":{"field":"s","oneOf":["G. hirsuta","G. inflata","G. cultrata","G. ruber","G. ruber ruber","T. humilis"]}}],
"facet":{"row":{"field":"g","title":null},"column":{"field":"s","title":null,"sort":["G. hirsuta","G. inflata","G. cultrata","G. ruber","G. ruber ruber","T. humilis"]}},
"spacing":{"column":13,"row":0},"resolve":{"scale":{"y":"independent"}},
"spec":{"width":155,"height":74,"encoding":{"x":{"field":"d","type":"ordinal","title":null,"scale":{"domain":[1950,1960,1970,1980,1990,2000,2010,2020],"paddingInner":0.1,"paddingOuter":0.05},"axis":{"labels":false}}},
"layer":[
{"transform":[{"flatten":["p"]}],"mark":{"type":"circle","color":"#b47ad0","opacity":0.6,"size":36},"encoding":{"y":{"field":"p","type":"quantitative","title":null}}},
{"mark":{"type":"bar","color":"#abde5b","opacity":0.8},"encoding":{"y":{"field":"m","type":"quantitative","title":null,"scale":{"domainMin":0,"nice":false}}}},
{"mark":{"type":"rule","color":"black"},"encoding":{"y":{"field":"lo","type":"quantitative","title":null},"y2":{"field":"hi"}}},
{"mark":{"type":"tick","color":"black","size":5,"thickness":1},"encoding":{"y":{"field":"hi","type":"quantitative","title":null}}},
{"transform":[{"filter":"datum.lo>0"}],"mark":{"type":"tick","color":"black","size":5,"thickness":1},"encoding":{"y":{"field":"lo","type":"quantitative","title":null}}}]}},
{"transform":[{"filter":{"field":"g","equal":"B"}},{"filter":{"field":"s","oneOf":["G. rubescens","G. scitula","G. siphonifera","G. truncatulinoides","G. uvula","T. quinqueloba"]}}],
"facet":{"row":{"field":"g","title":null},"column":{"field":"s","title":null,"sort":["G. rubescens","G. scitula","G. siphonifera","G. truncatulinoides","G. uvula","T. quinqueloba"]}},
"spacing":{"column":13,"row":0},"resolve":{"scale":{"y":"independent"}},
"spec":{"width":155,"height":74,"encoding":{"x":{"field":"d","type":"ordinal","title":null,"scale":{"domain":[1950,1960,1970,1980,1990,2000,2010,2020],"paddingInner":0.1,"paddingOuter":0.05},"axis":{"labels":false}}},
"layer":[
{"transform":[{"flatten":["p"]}],"mark":{"type":"circle","color":"#b47ad0","opacity":0.6,"size":36},"encoding":{"y":{"field":"p","type":"quantitative","title":null}}},
{"mark":{"type":"bar","color":"#abde5b","opacity":0.8},"encoding":{"y":{"field":"m","type":"quantitative","title":null,"scale":{"domainMin":0,"nice":false}}}},
{"mark":{"type":"rule","color":"black"},"encoding":{"y":{"field":"lo","type":"quantitative","title":null},"y2":{"field":"hi"}}},
{"mark":{"type":"tick","color":"black","size":5,"thickness":1},"encoding":{"y":{"field":"hi","type":"quantitative","title":null}}},
{"transform":[{"filter":"datum.lo>0"}],"mark":{"type":"tick","color":"black","size":5,"thickness":1},"encoding":{"y":{"field":"lo","type":"quantitative","title":null}}}]}},
{"transform":[{"filter":{"field":"g","equal":"B"}},{"filter":{"field":"s","oneOf":["H. pelagica","N. dutertrei","N. incompta","N. pachyderma","O. universa","T. sacculifer"]}}],
"facet":{"row":{"field":"g","title":null},"column":{"field":"s","title":null,"sort":["H. pelagica","N. dutertrei","N. incompta","N. pachyderma","O. universa","T. sacculifer"]}},
"spacing":{"column":13,"row":0},"resolve":{"scale":{"y":"independent"}},
"spec":{"width":155,"height":74,"encoding":{"x":{"field":"d","type":"ordinal","title":null,"scale":{"domain":[1950,1960,1970,1980,1990,2000,2010,2020],"paddingInner":0.1,"paddingOuter":0.05},"axis":{"labelAngle":-45,"labelExpr":"datum.value<1960||datum.value>2010?'':datum.value==1990?'1980-2000':datum.value+'-'+(datum.value+10)"}}},
"layer":[
{"transform":[{"flatten":["p"]}],"mark":{"type":"circle","color":"#b47ad0","opacity":0.6,"size":36},"encoding":{"y":{"field":"p","type":"quantitative","title":null}}},
{"mark":{"type":"bar","color":"#abde5b","opacity":0.8},"encoding":{"y":{"field":"m","type":"quantitative","title":null,"scale":{"domainMin":0,"nice":false}}}},
{"mark":{"type":"rule","color":"black"},"encoding":{"y":{"field":"lo","type":"quantitative","title":null},"y2":{"field":"hi"}}},
{"mark":{"type":"tick","color":"black","size":5,"thickness":1},"encoding":{"y":{"field":"hi","type":"quantitative","title":null}}},
{"transform":[{"filter":"datum.lo>0"}],"mark":{"type":"tick","color":"black","size":5,"thickness":1},"encoding":{"y":{"field":"lo","type":"quantitative","title":null}}}]}}
]}]},
{"title":{"text":"C","fontSize":19,"dx":-25,"offset":0},"vconcat":[{"title":{"text":"50-90°N","fontSize":12.5,"dx":-21,"offset":11},"spacing":28,"vconcat":[
{"transform":[{"filter":{"field":"g","equal":"C"}},{"filter":{"field":"s","oneOf":["G. bulloides","G. calida","G. conglobatus","G. glutinata","G. hirsuta","T. quinqueloba"]}}],
"facet":{"row":{"field":"g","title":null},"column":{"field":"s","title":null,"sort":["G. bulloides","G. calida","G. conglobatus","G. glutinata","G. hirsuta","T. quinqueloba"]}},
"spacing":{"column":13,"row":0},"resolve":{"scale":{"y":"independent"}},
"spec":{"width":155,"height":107,"encoding":{"x":{"field":"d","type":"ordinal","title":null,"scale":{"domain":[1950,1960,1970,1980,1990,2000,2010,2020],"paddingInner":0.1,"paddingOuter":0.05},"axis":{"labels":false}}},
"layer":[
{"transform":[{"flatten":["p"]}],"mark":{"type":"circle","color":"#b47ad0","opacity":0.6,"size":36},"encoding":{"y":{"field":"p","type":"quantitative","title":null}}},
{"mark":{"type":"bar","color":"#4ac37d","opacity":0.8},"encoding":{"y":{"field":"m","type":"quantitative","title":null,"scale":{"domainMin":0,"nice":false}}}},
{"mark":{"type":"rule","color":"black"},"encoding":{"y":{"field":"lo","type":"quantitative","title":null},"y2":{"field":"hi"}}},
{"mark":{"type":"tick","color":"black","size":5,"thickness":1},"encoding":{"y":{"field":"hi","type":"quantitative","title":null}}},
{"transform":[{"filter":"datum.lo>0"}],"mark":{"type":"tick","color":"black","size":5,"thickness":1},"encoding":{"y":{"field":"lo","type":"quantitative","title":null}}}]}},
{"transform":[{"filter":{"field":"g","equal":"C"}},{"filter":{"field":"s","oneOf":["G. inflata","G. ruber","G. scitula","G. siphonifera","G. truncatulinoides","T. sacculifer"]}}],
"facet":{"row":{"field":"g","title":null},"column":{"field":"s","title":null,"sort":["G. inflata","G. ruber","G. scitula","G. siphonifera","G. truncatulinoides","T. sacculifer"]}},
"spacing":{"column":13,"row":0},"resolve":{"scale":{"y":"independent"}},
"spec":{"width":155,"height":107,"encoding":{"x":{"field":"d","type":"ordinal","title":null,"scale":{"domain":[1950,1960,1970,1980,1990,2000,2010,2020],"paddingInner":0.1,"paddingOuter":0.05},"axis":{"labels":false}}},
"layer":[
{"transform":[{"flatten":["p"]}],"mark":{"type":"circle","color":"#b47ad0","opacity":0.6,"size":36},"encoding":{"y":{"field":"p","type":"quantitative","title":null}}},
{"mark":{"type":"bar","color":"#4ac37d","opacity":0.8},"encoding":{"y":{"field":"m","type":"quantitative","title":null,"scale":{"domainMin":0,"nice":false}}}},
{"mark":{"type":"rule","color":"black"},"encoding":{"y":{"field":"lo","type":"quantitative","title":null},"y2":{"field":"hi"}}},
{"mark":{"type":"tick","color":"black","size":5,"thickness":1},"encoding":{"y":{"field":"hi","type":"quantitative","title":null}}},
{"transform":[{"filter":"datum.lo>0"}],"mark":{"type":"tick","color":"black","size":5,"thickness":1},"encoding":{"y":{"field":"lo","type":"quantitative","title":null}}}]}},
{"transform":[{"filter":{"field":"g","equal":"C"}},{"filter":{"field":"s","oneOf":["G. uvula","N. dutertrei","N. incompta","N. pachyderma","O. universa","T. humilis"]}}],
"facet":{"row":{"field":"g","title":null},"column":{"field":"s","title":null,"sort":["G. uvula","N. dutertrei","N. incompta","N. pachyderma","O. universa","T. humilis"]}},
"spacing":{"column":13,"row":0},"resolve":{"scale":{"y":"independent"}},
"spec":{"width":155,"height":107,"encoding":{"x":{"field":"d","type":"ordinal","title":null,"scale":{"domain":[1950,1960,1970,1980,1990,2000,2010,2020],"paddingInner":0.1,"paddingOuter":0.05},"axis":{"labelAngle":-45,"labelExpr":"datum.value<1960||datum.value>2010?'':datum.value==1990?'1980-2000':datum.value+'-'+(datum.value+10)"}}},
"layer":[
{"transform":[{"flatten":["p"]}],"mark":{"type":"circle","color":"#b47ad0","opacity":0.6,"size":36},"encoding":{"y":{"field":"p","type":"quantitative","title":null}}},
{"mark":{"type":"bar","color":"#4ac37d","opacity":0.8},"encoding":{"y":{"field":"m","type":"quantitative","title":null,"scale":{"domainMin":0,"nice":false}}}},
{"mark":{"type":"rule","color":"black"},"encoding":{"y":{"field":"lo","type":"quantitative","title":null},"y2":{"field":"hi"}}},
{"mark":{"type":"tick","color":"black","size":5,"thickness":1},"encoding":{"y":{"field":"hi","type":"quantitative","title":null}}},
{"transform":[{"filter":"datum.lo>0"}],"mark":{"type":"tick","color":"black","size":5,"thickness":1},"encoding":{"y":{"field":"lo","type":"quantitative","title":null}}}]}}
]}]}
],
"config":{
"font":"Liberation Sans",
"view":{"stroke":null},
"title":{"anchor":"start","font":"Liberation Sans","fontWeight":"bold","color":"#111"},
"axis":{"grid":true,"gridColor":"#dedede","gridWidth":1,"ticks":false,"domain":false,"labelFont":"Liberation Sans","labelColor":"#555","labelFontSize":10.5,"labelPadding":3},
"axisX":{"tickBand":"center","labelFontSize":11},
"axisY":{"tickCount":3.5,"minExtent":21,"maxExtent":21},
"header":{"labelFont":"Liberation Sans"},
"headerRow":{"labelExpr":"'Abundance (#/m³)'","labelAngle":-90,"labelFontSize":12.5,"labelColor":"#111","labelPadding":-4,"labelOrient":"left"},
"headerColumn":{"labelFontStyle":"italic","labelFontSize":9.5,"labelAnchor":"start","labelPadding":6,"labelColor":"#222"}
}
}
